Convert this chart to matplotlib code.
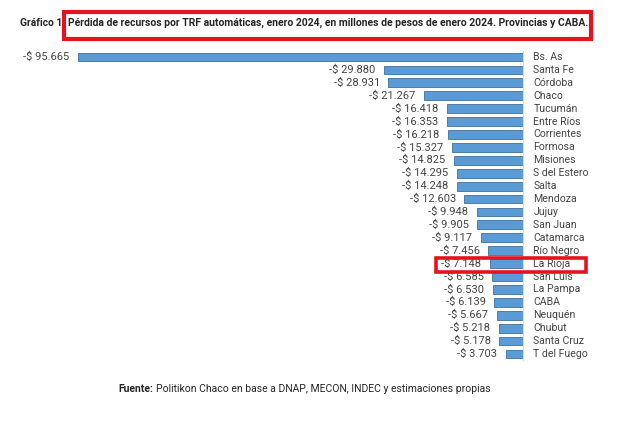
import matplotlib
matplotlib.use("Agg")
import matplotlib.pyplot as plt
from matplotlib.patches import Rectangle
from matplotlib import font_manager

provinces = ["Bs. As", "Santa Fe", "Córdoba", "Chaco", "Tucumán", "Entre Ríos",
             "Corrientes", "Formosa", "Misiones", "S del Estero", "Salta", "Mendoza",
             "Jujuy", "San Juan", "Catamarca", "Río Negro", "La Rioja", "San Luis",
             "La Pampa", "CABA", "Neuquén", "Chubut", "Santa Cruz", "T del Fuego"]
losses = [95.665, 29.880, 28.931, 21.267, 16.418, 16.353, 16.218, 15.327, 14.825,
          14.295, 14.248, 12.603, 9.948, 9.905, 9.117, 7.456, 7.148, 6.585, 6.530,
          6.139, 5.667, 5.218, 5.178, 3.703]
value_labels = ["-$ 95.665", "-$ 29.880", "-$ 28.931", "-$ 21.267", "-$ 16.418",
                "-$ 16.353", "-$ 16.218", "-$ 15.327", "-$ 14.825", "-$ 14.295",
                "-$ 14.248", "-$ 12.603", "-$ 9.948", "-$ 9.905", "-$ 9.117",
                "-$ 7.456", "-$ 7.148", "-$ 6.585", "-$ 6.530", "-$ 6.139",
                "-$ 5.667", "-$ 5.218", "-$ 5.178", "-$ 3.703"]

names = {f.name for f in font_manager.fontManager.ttflist}
fam = "Liberation Sans Narrow" if "Liberation Sans Narrow" in names else "Roboto"
plt.rcParams['font.family'] = [fam, 'DejaVu Sans']

W, H = 628, 421
fig = plt.figure(figsize=(W / 100, H / 100), dpi=100)
fig.patch.set_facecolor("white")

# axes in pixel geometry
x0, x1 = 78, 523
y_top, y_bot = 57 - 6.45, 354 + 6.45
ax = fig.add_axes([x0 / W, (H - y_bot) / H, (x1 - x0) / W, (y_bot - y_top) / H])
n = len(provinces)
ypos = list(range(n))
ax.barh(ypos, [-v for v in losses], height=0.68, color="#5b9bd5",
        edgecolor="#41719c", linewidth=0.6)
ax.set_xlim(-losses[0], 0)
ax.set_ylim(n - 0.5, -0.5)
ax.axis("off")
ax.axvline(0, color="#d9d9d9", lw=0.8, clip_on=False)

for i, (v, lab, name) in enumerate(zip(losses, value_labels, provinces)):
    ax.annotate(lab, (-v, i), xytext=(-6, 0), textcoords="offset points",
                ha="right", va="center", fontsize=8.0, color="#454545",
                annotation_clip=False)
    ax.annotate(name, (0, i), xytext=(7.5, 0), textcoords="offset points",
                ha="left", va="center", fontsize=7.6, color="#454545",
                annotation_clip=False)

# title
fig.text(20 / W, 1 - 23 / H, "Gráfico 1", fontsize=7.4, fontweight="bold",
         color="#262626", ha="left", va="center")
fig.text(68 / W, 1 - 23 / H,
         "Pérdida de recursos por TRF automáticas, enero 2024, en millones de pesos de enero 2024. Provincias y CABA.",
         fontsize=7.45, fontweight="bold", color="#262626", ha="left", va="center")

# source
t = fig.text(118 / W, 1 - 389 / H, "Fuente:", fontsize=7.45, fontweight="bold",
             color="#262626", ha="left", va="center")
fig.canvas.draw()
bb = t.get_window_extent()
fig.text((bb.x1 + 3) / W, 1 - 389 / H,
         "Politikon Chaco en base a DNAP, MECON, INDEC y estimaciones propias",
         fontsize=7.45, color="#262626", ha="left", va="center")

# red highlight boxes
def box(xa, ya, xb, yb, lw):
    fig.patches.append(Rectangle((xa / W, 1 - yb / H), (xb - xa) / W, (yb - ya) / H,
                                 transform=fig.transFigure, fill=False,
                                 edgecolor="#e3141f", linewidth=lw))

box(64, 12, 591, 39, 3.0)
box(436, 258, 586, 272, 2.6)

fig.savefig("out.png", dpi=100, facecolor="white")
